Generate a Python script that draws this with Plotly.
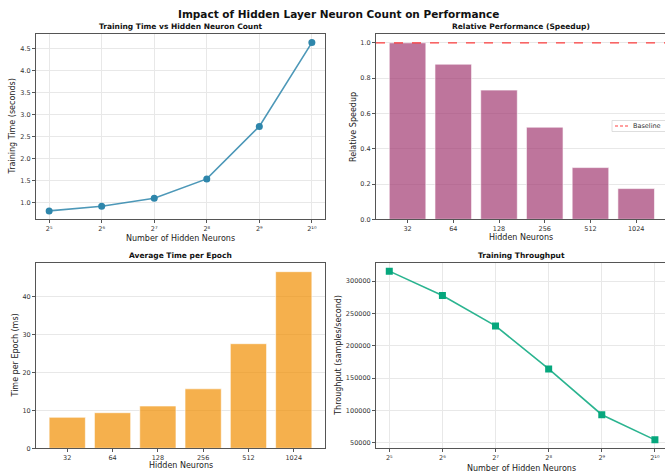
import math
import plotly.graph_objects as go

# ---- data ----
neurons = [32, 64, 128, 256, 512, 1024]
neuron_labels = ["32", "64", "128", "256", "512", "1024"]
pow_labels = ["2⁵", "2⁶", "2⁷", "2⁸", "2⁹", "2¹⁰"]
training_time = [0.82, 0.925, 1.107, 1.545, 2.736, 4.636]
speedup = [1.0, 0.879, 0.732, 0.522, 0.293, 0.174]
epoch_time_ms = [8.18, 9.39, 11.16, 15.7, 27.6, 46.6]
throughput = [315500, 277700, 230800, 164250, 93500, 54600]
baseline_value = 1.0

W, H = 665, 476
FONT = "DejaVu Sans"
L2 = math.log10(2)

def px(x):
    return x / W

def py(y):
    return (H - y) / H

fig = go.Figure()

blue = "#2E86AB"
fig.add_trace(go.Scatter(x=neurons, y=training_time, mode="lines+markers",
                         line=dict(color="rgba(46,134,171,0.85)", width=1.6),
                         marker=dict(color=blue, size=7, symbol="circle"),
                         xaxis="x", yaxis="y", showlegend=False))

fig.add_trace(go.Bar(x=neuron_labels, y=speedup,
                     marker=dict(color="rgba(162,59,114,0.7)", line=dict(color="rgba(255,255,255,0.6)", width=1)),
                     xaxis="x2", yaxis="y2", showlegend=False))

fig.add_trace(go.Bar(x=neuron_labels, y=epoch_time_ms,
                     marker=dict(color="rgba(241,143,1,0.7)", line=dict(color="rgba(255,255,255,0.6)", width=1)),
                     xaxis="x3", yaxis="y3", showlegend=False))

fig.add_trace(go.Scatter(x=neurons, y=throughput, mode="lines+markers",
                         line=dict(color="rgba(6,167,125,0.85)", width=1.6),
                         marker=dict(color="#06A77D", size=7, symbol="square"),
                         xaxis="x4", yaxis="y4", showlegend=False))

red = "rgba(255,0,0,0.75)"
# baseline line
fig.add_shape(type="line", xref="x2 domain", yref="y2", x0=0, x1=1, y0=baseline_value, y1=baseline_value,
              line=dict(color=red, width=1.2, dash="dash"))

# legend box (drawn manually to match compact matplotlib legend)
fig.add_shape(type="rect", xref="paper", yref="paper", x0=px(612), x1=px(667), y0=py(131.5), y1=py(120.5),
              line=dict(color="#d5d5d5", width=0.8), fillcolor="rgba(255,255,255,0.85)")
fig.add_shape(type="line", xref="paper", yref="paper", x0=px(615), x1=px(628), y0=py(126), y1=py(126),
              line=dict(color=red, width=1.2, dash="3px,2px"))

L_left = (px(36), px(325))
L_right = (px(376), 1.0)
Y_top = (py(219.3), py(34))
Y_bot = (py(448.3), py(262.7))

spine = "#555555"
grid = "#e8e8e8"
tickfont = dict(family=FONT, size=6.5, color="#333333")

def xax(domain, anchor, **kw):
    d = dict(domain=domain, anchor=anchor, showline=True, linecolor=spine, linewidth=1,
             mirror=True, ticks="outside", ticklen=3, tickcolor=spine, tickwidth=0.8,
             showgrid=True, gridcolor=grid, gridwidth=0.8, zeroline=False,
             tickfont=tickfont)
    d.update(kw)
    return d

def yax(domain, anchor, mirror=True, **kw):
    d = dict(domain=domain, anchor=anchor, showline=True, linecolor=spine, linewidth=1,
             mirror=mirror, ticks="outside", ticklen=3, tickcolor=spine, tickwidth=0.8,
             showgrid=True, gridcolor=grid, gridwidth=0.8, zeroline=False,
             tickfont=tickfont)
    d.update(kw)
    return d

fig.update_layout(
    width=W, height=H,
    margin=dict(l=0, r=0, t=0, b=0, autoexpand=False),
    paper_bgcolor="white", plot_bgcolor="white",
    font=dict(family=FONT, color="#222222"),
    bargap=0.2,
    showlegend=False,
    xaxis=xax(L_left, "y", type="log", range=[4.75 * L2, 10.25 * L2],
              tickvals=neurons, ticktext=pow_labels),
    yaxis=yax(Y_top, "x", range=[0.63, 4.83], dtick=0.5, tick0=0, tickformat=".1f"),
    xaxis2=xax(L_right, "y2", type="category", range=[-0.69, 5.63], showgrid=False),
    yaxis2=yax(Y_top, "x2", mirror=False, range=[0, 1.05], dtick=0.2, tick0=0, tickformat=".1f"),
    xaxis3=xax(L_left, "y3", type="category", range=[-0.69, 5.69], showgrid=False),
    yaxis3=yax(Y_bot, "x3", range=[0, 48.97], dtick=10, tick0=0),
    xaxis4=xax(L_right, "y4", type="log", range=[4.75 * L2, 10.19 * L2],
               tickvals=neurons, ticktext=pow_labels),
    yaxis4=yax(Y_bot, "x4", mirror=False, range=[41555, 328545], dtick=50000, tick0=0, tickformat="d"),
)

ann = []
def text(x, y, s, size, bold=False, angle=0, xanchor="center", color=None):
    ann.append(dict(x=px(x), y=py(y), xref="paper", yref="paper", text=("<b>%s</b>" % s) if bold else s,
                    showarrow=False, xanchor=xanchor, yanchor="middle", textangle=angle,
                    font=dict(family=FONT, size=size, color=color or ("#111111" if bold else "#222222"))))

text(338, 13.5, "Impact of Hidden Layer Neuron Count on Performance", 10.5, bold=True)
text(180.5, 26.7, "Training Time vs Hidden Neuron Count", 7.5, bold=True)
text(521, 26.7, "Relative Performance (Speedup)", 7.5, bold=True)
text(180.5, 255.3, "Average Time per Epoch", 7.5, bold=True)
text(521, 255.3, "Training Throughput", 7.5, bold=True)

text(180.5, 238.5, "Number of Hidden Neurons", 8)
text(521, 237, "Hidden Neurons", 8)
text(180.5, 465.7, "Hidden Neurons", 8)
text(521, 468.3, "Number of Hidden Neurons", 8)

text(12.7, 126.7, "Training Time (seconds)", 8, angle=-90)
text(353.3, 126.7, "Relative Speedup", 8, angle=-90)
text(15, 355.5, "Time per Epoch (ms)", 8, angle=-90)
text(338.3, 355.5, "Throughput (samples/second)", 8, angle=-90)

text(631, 126, "Baseline", 6.5, xanchor="left", color="#333333")

fig.update_layout(annotations=ann)

fig.write_html("out.html", config={"displayModeBar": False},
               post_script="document.body.style.margin='0';document.body.style.overflow='hidden';")
